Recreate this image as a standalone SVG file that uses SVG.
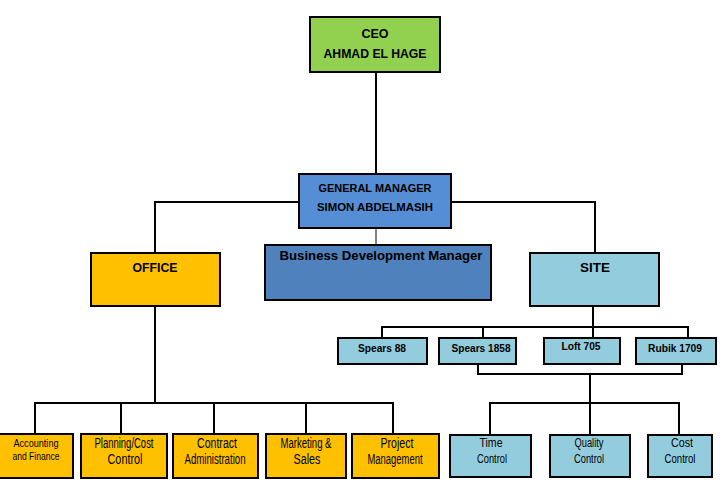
<svg xmlns="http://www.w3.org/2000/svg" width="720" height="482" viewBox="0 0 720 482">
<style>
.box{stroke:#000;stroke-width:2}
.c{fill:none;stroke:#000;stroke-width:2}
.g{fill:none;stroke:#808080;stroke-width:2}
.t{font-family:"Liberation Sans",Arial,sans-serif;font-weight:bold;fill:#000;text-anchor:middle}
.n{font-family:"Liberation Sans",Arial,sans-serif;fill:#000;text-anchor:middle;font-size:14px}
.s{font-size:12.5px}
.a{font-size:11.5px}
.green{fill:#92d050}.gm{fill:#558ed5}.bdm{fill:#4f81bd}.org{fill:#ffc000}.site{fill:#93cddd}
</style>
<rect width="720" height="482" fill="#fff"/>
<g id="connectors">
<path class="c" d="M376 72V174"/>
<path class="c" d="M155 253V202H299M451 202H595V253"/>
<path class="g" d="M376 228V245"/>
<path class="c" d="M155 306V403"/>
<path class="c" d="M35 434V403H393V434M121 403V434M214 403V434M306 403V434"/>
<path class="c" d="M593 306V327" stroke-width="1.5"/>
<path class="c" d="M382 338V327H688V338M483 327V338M593 327V338" stroke-width="1.5"/>
<path class="c" d="M478 364V374H682V364" stroke-width="1.5"/>
<path class="c" d="M590 374V403"/>
<path class="c" d="M490 435V403H679V435M590 403V435" stroke-width="1.5"/>
</g>
<g id="ceo"><rect class="box green" x="310" y="17" width="130" height="55"/>
<text class="t" x="375" y="38" font-size="12.5">CEO</text>
<text class="t" x="375" y="58" font-size="12.5" textLength="103" lengthAdjust="spacingAndGlyphs">AHMAD EL HAGE</text></g>
<g id="gm"><rect class="box gm" x="299" y="174" width="152" height="54"/>
<text class="t" x="375" y="192" font-size="11.5" textLength="113" lengthAdjust="spacingAndGlyphs">GENERAL MANAGER</text>
<text class="t" x="375" y="211" font-size="11.5" textLength="116" lengthAdjust="spacingAndGlyphs">SIMON ABDELMASIH</text></g>
<g id="office"><rect class="box org" x="91" y="253" width="129" height="53"/>
<text class="t" x="155" y="272" font-size="13.5" textLength="45" lengthAdjust="spacingAndGlyphs">OFFICE</text></g>
<g id="bdm"><rect class="box bdm" x="265" y="245" width="226" height="55"/>
<text class="t" x="381" y="260" font-size="13" textLength="203" lengthAdjust="spacingAndGlyphs">Business Development Manager</text></g>
<g id="site"><rect class="box site" x="530" y="253" width="129" height="53"/>
<text class="t" x="595" y="272" font-size="13.5">SITE</text></g>
<g id="spears88"><rect class="box site" x="338" y="338" width="89" height="26"/>
<text class="t" x="382" y="352" font-size="11" textLength="48" lengthAdjust="spacingAndGlyphs">Spears 88</text></g>
<g id="spears1858"><rect class="box site" x="439" y="338" width="77" height="26"/>
<text class="t" x="481" y="352" font-size="11" textLength="59" lengthAdjust="spacingAndGlyphs">Spears 1858</text></g>
<g id="loft705"><rect class="box site" x="544" y="338" width="76" height="26"/>
<text class="t" x="581" y="350" font-size="11" textLength="39" lengthAdjust="spacingAndGlyphs">Loft 705</text></g>
<g id="rubik1709"><rect class="box site" x="636" y="338" width="80" height="26"/>
<text class="t" x="675" y="352" font-size="11" textLength="54" lengthAdjust="spacingAndGlyphs">Rubik 1709</text></g>
<g id="accounting"><rect class="box org" x="-1" y="434" width="74" height="44"/>
<text class="n a" x="36" y="447" textLength="45" lengthAdjust="spacingAndGlyphs">Accounting</text>
<text class="n a" x="36" y="460" textLength="47" lengthAdjust="spacingAndGlyphs">and Finance</text></g>
<g id="planning"><rect class="box org" x="81" y="434" width="86" height="44"/>
<text class="n" x="124" y="448" textLength="59" lengthAdjust="spacingAndGlyphs">Planning/Cost</text>
<text class="n" x="125" y="464" textLength="35" lengthAdjust="spacingAndGlyphs">Control</text></g>
<g id="contract"><rect class="box org" x="173" y="434" width="85" height="44"/>
<text class="n" x="217" y="448" textLength="40" lengthAdjust="spacingAndGlyphs">Contract</text>
<text class="n" x="215" y="464" textLength="61" lengthAdjust="spacingAndGlyphs">Administration</text></g>
<g id="marketing"><rect class="box org" x="266" y="434" width="80" height="44"/>
<text class="n" x="306" y="448" textLength="51" lengthAdjust="spacingAndGlyphs">Marketing &amp;</text>
<text class="n" x="307" y="464" textLength="27" lengthAdjust="spacingAndGlyphs">Sales</text></g>
<g id="project"><rect class="box org" x="352" y="434" width="87" height="44"/>
<text class="n" x="397" y="448" textLength="33" lengthAdjust="spacingAndGlyphs">Project</text>
<text class="n" x="395" y="464" textLength="55" lengthAdjust="spacingAndGlyphs">Management</text></g>
<g id="time"><rect class="box site" x="450" y="435" width="81" height="42"/>
<text class="n s" x="491" y="447" textLength="23" lengthAdjust="spacingAndGlyphs">Time</text>
<text class="n s" x="492" y="463" textLength="30" lengthAdjust="spacingAndGlyphs">Control</text></g>
<g id="quality"><rect class="box site" x="550" y="435" width="80" height="42"/>
<text class="n s" x="589" y="447" textLength="29" lengthAdjust="spacingAndGlyphs">Quality</text>
<text class="n s" x="589" y="463" textLength="30" lengthAdjust="spacingAndGlyphs">Control</text></g>
<g id="cost"><rect class="box site" x="648" y="435" width="64" height="42"/>
<text class="n s" x="682" y="447" textLength="22" lengthAdjust="spacingAndGlyphs">Cost</text>
<text class="n s" x="680" y="463" textLength="31" lengthAdjust="spacingAndGlyphs">Control</text></g>
</svg>
